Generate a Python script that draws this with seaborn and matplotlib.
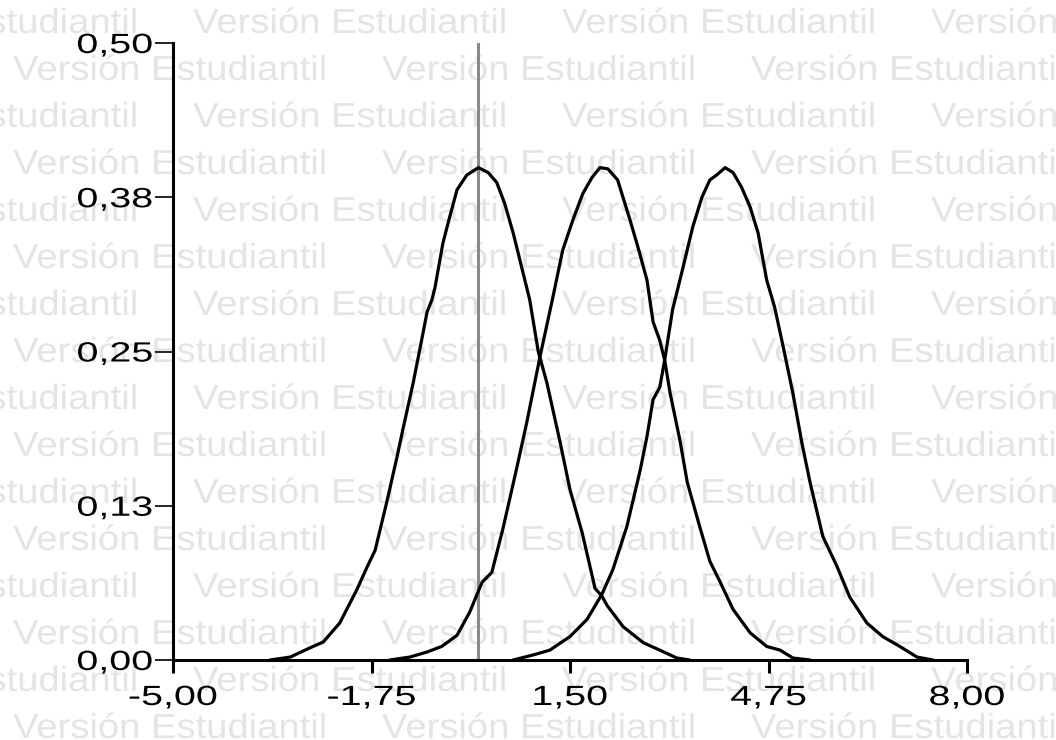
import pandas as pd
import seaborn as sns
import matplotlib
matplotlib.use('Agg')
import matplotlib.pyplot as plt
from matplotlib.patheffects import AbstractPathEffect
from matplotlib.transforms import Affine2D

# Curve values (three simulated densities)
x1 = [-3.41, -3.08, -2.76, -2.54, -2.27, -1.99, -1.82, -1.69, -1.50, -1.33, -1.24, -1.07,
      -0.93, -0.84, -0.76, -0.71, -0.58, -0.47, -0.35, -0.19, 0.00, 0.16, 0.30, 0.43, 0.57,
      0.71, 0.84, 0.98, 1.12, 1.34, 1.50, 1.70, 1.91, 2.02, 2.11, 2.37, 2.70, 2.97, 3.25, 3.46]
y1 = [0.0, 0.0024, 0.0098, 0.0146, 0.030, 0.057, 0.0756, 0.089, 0.128, 0.165, 0.186, 0.224,
      0.259, 0.282, 0.292, 0.302, 0.338, 0.359, 0.381, 0.393, 0.399, 0.395, 0.387, 0.370, 0.346,
      0.318, 0.292, 0.250, 0.225, 0.176, 0.138, 0.103, 0.058, 0.052, 0.044, 0.027, 0.014, 0.008, 0.0016, 0.0]

x2 = [-1.45, -1.12, -0.84, -0.60, -0.35, -0.14, 0.06, 0.22, 0.40, 0.63, 0.79, 1.01, 1.22,
      1.38, 1.55, 1.71, 1.86, 1.99, 2.12, 2.28, 2.48, 2.61, 2.76, 2.86, 2.97, 3.05, 3.14,
      3.30, 3.42, 3.63, 3.79, 3.96, 4.17, 4.45, 4.72, 4.94, 5.15, 5.43]
y2 = [0.0, 0.0024, 0.0065, 0.011, 0.020, 0.039, 0.063, 0.071, 0.106, 0.156, 0.192, 0.246, 0.294,
      0.332, 0.357, 0.378, 0.391, 0.399, 0.398, 0.389, 0.357, 0.335, 0.308, 0.274, 0.259, 0.243, 0.216,
      0.178, 0.144, 0.107, 0.080, 0.063, 0.041, 0.022, 0.011, 0.008, 0.0016, 0.0]

x3 = [0.57, 0.89, 1.17, 1.50, 1.78, 2.02, 2.20, 2.43, 2.65, 2.76, 2.86, 2.97, 3.05, 3.18,
      3.35, 3.51, 3.66, 3.79, 3.90, 4.04, 4.17, 4.31, 4.45, 4.58, 4.72, 4.85, 4.99, 5.15,
      5.30, 5.43, 5.64, 5.87, 6.08, 6.36, 6.62, 6.90, 7.18, 7.44]
y3 = [0.0, 0.004, 0.008, 0.019, 0.033, 0.053, 0.073, 0.108, 0.154, 0.181, 0.211, 0.221, 0.243, 0.284,
      0.318, 0.351, 0.375, 0.389, 0.393, 0.399, 0.395, 0.383, 0.367, 0.346, 0.308, 0.286, 0.254, 0.216,
      0.175, 0.144, 0.100, 0.076, 0.051, 0.030, 0.019, 0.011, 0.0024, 0.0]

xticks = [-5.0, -1.75, 1.5, 4.75, 8.0]
xtick_labels = ['-5,00', '-1,75', '1,50', '4,75', '8,00']
yticks = [0.0, 0.125, 0.25, 0.375, 0.5]
ytick_labels = ['0,00', '0,13', '0,25', '0,38', '0,50']
ref_x = 0.0
watermark = 'Versión Estudiantil'


class Stretch(AbstractPathEffect):
    # widen glyphs horizontally, keeping one edge (or the middle) in place
    def __init__(self, sx, anchor='left'):
        super().__init__()
        self.sx = sx
        self.anchor = anchor

    def draw_path(self, renderer, gc, tpath, affine, rgbFace=None):
        ext = tpath.get_extents()
        if self.anchor == 'right':
            cx = ext.x1
        elif self.anchor == 'center':
            cx = (ext.x0 + ext.x1) / 2
        else:
            cx = ext.x0
        t = Affine2D().translate(-cx, 0).scale(self.sx, 1).translate(cx, 0) + affine
        renderer.draw_path(gc, tpath, t, rgbFace)


sns.set_style('white')
plt.rcParams['font.family'] = ['Liberation Sans', 'DejaVu Sans']

W, H = 1056, 740
fig = plt.figure(figsize=(W / 100, H / 100), dpi=100)

# background watermark rows
for k in range(16):
    yb = 33 + 47 * k
    x0 = 13 if k % 2 else 193 - 369
    for j in range(5):
        fig.text((x0 + 369 * j) / W, 1 - yb / H, watermark, fontsize=25,
                 color='#e4e4e4', ha='left', va='baseline', zorder=-5,
                 path_effects=[Stretch(1.1, 'left')])

ax = fig.add_axes([173 / W, 1 - 660 / H, 794 / W, 617 / H])
ax.patch.set_alpha(0)

df = pd.concat([
    pd.DataFrame({'x': x1, 'y': y1, 'curva': 'a'}),
    pd.DataFrame({'x': x2, 'y': y2, 'curva': 'b'}),
    pd.DataFrame({'x': x3, 'y': y3, 'curva': 'c'}),
])

ax.axvline(ref_x, color='#8a8a8a', lw=2.2, zorder=1)
sns.lineplot(data=df, x='x', y='y', hue='curva', palette=['black'] * 3,
             linewidth=2.3, legend=False, estimator=None, ax=ax, zorder=2)
for ln in ax.lines:
    ln.set_solid_joinstyle('round')

ax.set_xlim(-5, 8)
ax.set_ylim(0, 0.5)
ax.set_xticks(xticks, xtick_labels)
ax.set_yticks(yticks, ytick_labels)
ax.set_xlabel('')
ax.set_ylabel('')

sns.despine(ax=ax)
for s in ['left', 'bottom']:
    ax.spines[s].set_linewidth(2.2)
    ax.spines[s].set_color('black')

ax.tick_params(axis='x', direction='out', length=9, width=2.2, pad=9,
               labelsize=20, colors='black', bottom=True)
ax.tick_params(axis='y', direction='out', length=13, width=1.2, pad=1.5,
               labelsize=20, colors='black', left=True)
for lab in ax.get_xticklabels():
    lab.set_path_effects([Stretch(1.42, 'center')])
for lab in ax.get_yticklabels():
    lab.set_path_effects([Stretch(1.42, 'right')])

fig.savefig('out.png', dpi=100)
